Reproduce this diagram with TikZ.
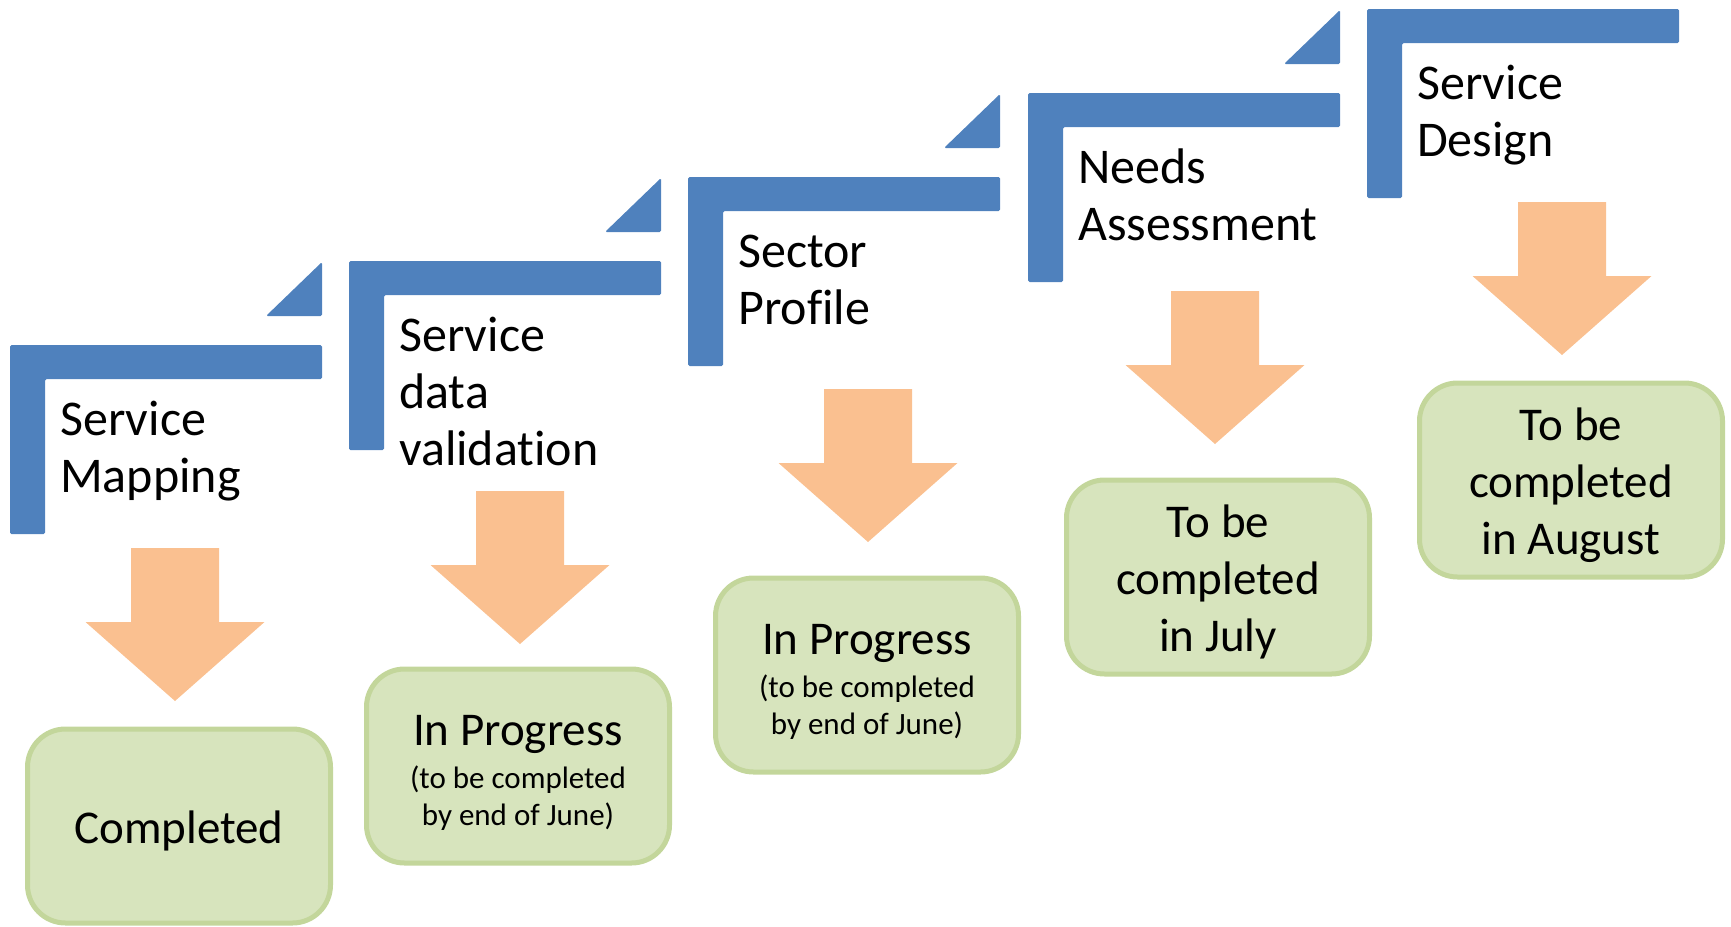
\documentclass[tikz,border=0pt]{standalone}
\usepackage{fontspec}
\setmainfont{Carlito}[Ligatures=NoCommon]
\definecolor{stepBlue}{HTML}{4F81BD}
\definecolor{arrowOrange}{HTML}{FAC090}
\definecolor{boxFill}{HTML}{D7E4BD}
\definecolor{boxLine}{HTML}{C3D69B}
\newcommand{\noteSize}{\fontsize{31}{37}\selectfont}
\newcommand{\capPad}{\rule{0pt}{43pt}}
\begin{document}
\begin{tikzpicture}
[x=1pt,y=-1pt,
  stepBar/.style={fill=stepBlue,rounded corners=1.5pt},%
  stepLabel/.style={anchor=base west,align=left,inner sep=0pt,font=\fontsize{50}{57}\selectfont},%
  downArrow/.style={fill=arrowOrange},%
  statusBox/.style={shape=rectangle,rounded corners=38pt,draw=boxLine,line width=5pt,fill=boxFill,
    minimum width=303pt,minimum height=194pt,align=center,font=\fontsize{47}{57}\selectfont}]
\useasboundingbox (0,0) rectangle (1731,926);
%% steps: bars and labels (label placed at baseline of its last line)
\foreach \name/\x/\y/\last/\txt in {mapping/10/345/147/{Service\\Mapping},
  validation/349/261/204/{Service\\data\\validation},
  sector/688/177/147/{Sector\\Profile},
  needs/1028/93/147/{Needs\\Assessment},
  design/1367/9/147/{Service\\Design}}
{
  \fill[stepBar] (\x,\y) -- ++(312,0) -- ++(0,34) -- ++(-277,0) -- ++(0,155) -- ++(-35,0) -- cycle;
  \node[stepLabel] (\name) at (\x+50,\y+\last) {\txt};
}
%% small corner triangles
\foreach \x/\y in {10/345, 349/261, 688/177, 1028/93}
{
  \fill[stepBar] (\x+312,\y-29) -- ++(-56,0) -- ++(56,-54) -- cycle;
}
%% block arrows
\foreach \cx/\top in {175/548, 520/491, 868/389, 1215/291, 1562/202}
{
  \fill[downArrow] (\cx-44,\top) -- (\cx+44,\top) -- (\cx+44,\top+74) -- (\cx+89.5,\top+74)
    -- (\cx,\top+153) -- (\cx-89.5,\top+74) -- (\cx-44,\top+74) -- cycle;
}
%% status boxes
\node[statusBox] (done) at (179,826) {\capPad Completed};
\node[statusBox] (progressA) at (518,766) {\capPad In Progress\\[-14pt]{\noteSize (to be completed}\\[-20pt]{\noteSize by end of June)}};
\node[statusBox] (progressB) at (867,675) {\capPad In Progress\\[-14pt]{\noteSize (to be completed}\\[-20pt]{\noteSize by end of June)}};
\node[statusBox] (july) at (1218,577) {\capPad To be\\completed\\in July};
\node[statusBox] (august) at (1571,480) {\capPad To be\\completed\\in August};
\end{tikzpicture}
\end{document}
